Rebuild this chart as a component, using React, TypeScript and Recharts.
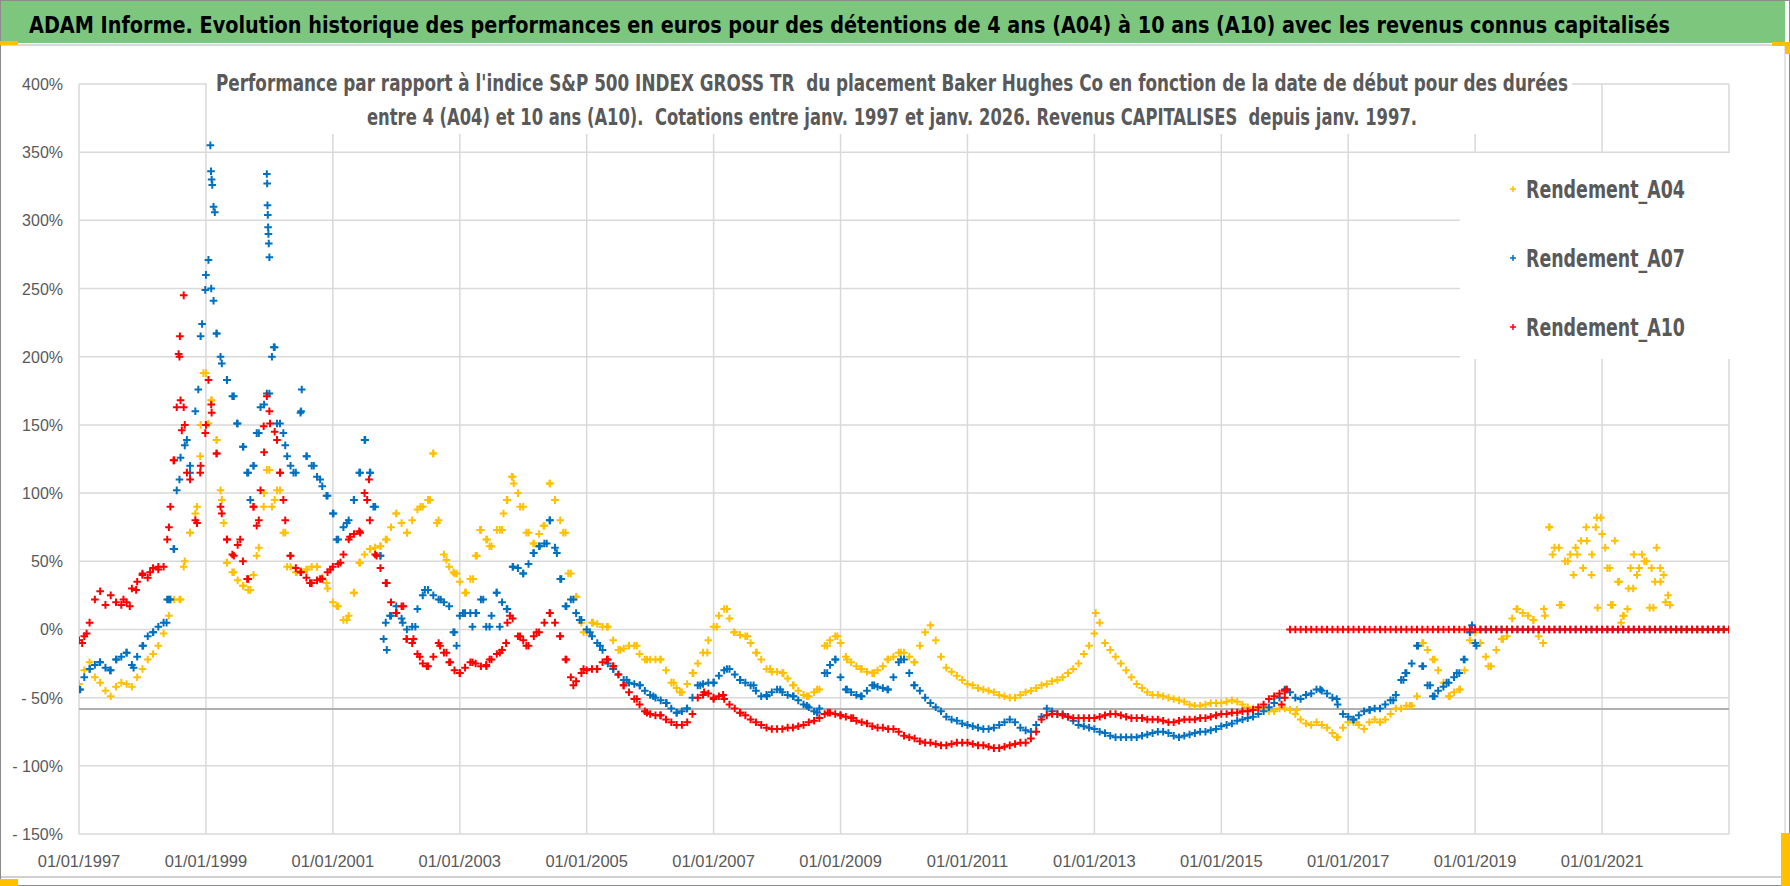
import React from "react";
import { ScatterChart, Scatter, XAxis, YAxis, CartesianGrid, ReferenceLine } from "recharts";

const NARROW = "'DejaVu Sans Condensed', 'Liberation Sans', sans-serif";
const AXIS_FONT = "'Liberation Sans', Arial, sans-serif";

const firstYear = 1997;
const xTicks = [1997, 1999, 2001, 2003, 2005, 2007, 2009, 2011, 2013, 2015, 2017, 2019, 2021];
const yTicks = [-150, -100, -50, 0, 50, 100, 150, 200, 250, 300, 350, 400];

// monthly readings (% vs index), one row per year, Jan 1997 -> Jan 2023
const a04Monthly = [
  -40, -30, -24, -35, -39, -45, -49, -42, -39, -40, -42, -35, // 1997
  -29, -22, -18, -12, -3, 10, 22, 22, 50, 71, 85, 150, // 1998
  188, 168, 139, 95, 49, 42, 36, 32, 29, 40, 60, 100, // 1999
  117, 95, 102, 71, 46, 42, 43, 44, 46, 46, 38, 30, // 2000
  20, 17, 7, 10, 27, 49, 55, 59, 60, 61, 66, 75, // 2001
  85, 78, 71, 80, 88, 90, 95, 129, 80, 55, 46, 41, // 2002
  35, 27, 37, 54, 73, 66, 61, 73, 73, 95, 112, 100, // 2003
  90, 71, 63, 70, 76, 107, 95, 80, 71, 41, 24, 5, // 2004
  -2, 5, 4, 2, 2, -8, -15, -14, -12, -12, -18, -22, // 2005
  -22, -22, -22, -30, -39, -43, -46, -40, -32, -25, -17, -8, // 2006
  2, 10, 15, 8, -2, -4, -5, -10, -17, -22, -29, -31, // 2007
  -31, -32, -36, -41, -45, -48, -49, -46, -44, -12, -8, -5, // 2008
  -10, -20, -24, -27, -29, -31, -32, -30, -27, -22, -20, -17, // 2009
  -17, -20, -24, -12, -2, 3, -8, -20, -28, -31, -34, -37, // 2010
  -40, -41, -43, -44, -45, -46, -48, -49, -50, -50, -48, -46, // 2011
  -45, -43, -41, -40, -38, -37, -35, -32, -29, -25, -18, -12, // 2012
  -3, 5, -10, -15, -20, -25, -30, -35, -40, -43, -46, -48, // 2013
  -48, -49, -50, -51, -52, -53, -55, -56, -56, -55, -54, -54, // 2014
  -54, -53, -52, -53, -55, -57, -58, -58, -58, -60, -60, -58, // 2015
  -58, -59, -62, -66, -69, -70, -68, -70, -72, -76, -79, -72, // 2016
  -68, -68, -70, -73, -68, -66, -68, -66, -62, -58, -58, -56, // 2017
  -56, -49, -10, -15, -22, -30, -39, -49, -46, -44, -30, -8, // 2018
  -2, -10, -20, -27, -15, -7, -5, 8, 15, 12, 10, 7, // 2019
  -5, 15, 75, 60, 18, 50, 55, 60, 65, 75, 40, 82, // 2020
  70, 45, 18, 35, 10, 30, 55, 45, 50, 16, 35, 45, // 2021
  20, 0, 0, 0, 0, 0, 0, 0, 0, 0, 0, 0, // 2022
  0, // 2023
];

const a07Monthly = [
  -44, -35, -29, -26, -24, -28, -30, -22, -20, -17, -26, -20, // 1997
  -12, -5, -2, 2, 5, 22, 59, 110, 135, 120, 160, 215, // 1998
  260, 250, 217, 195, 183, 171, 151, 134, 115, 120, 144, 165, // 1999
  173, 207, 151, 135, 120, 115, 160, 127, 120, 112, 105, 98, // 2000
  85, 66, 75, 80, 95, 115, 139, 115, 90, 54, 5, 10, // 2001
  12, 8, 0, 2, 15, 25, 29, 25, 22, 20, 17, -2, // 2002
  10, 12, 12, 12, 22, 2, 10, 27, 20, 15, 46, 45, // 2003
  41, 48, 56, 61, 63, 80, 60, 37, 17, 22, 12, 7, // 2004
  0, -5, -10, -15, -25, -29, -33, -37, -39, -40, -41, -45, // 2005
  -48, -50, -52, -54, -58, -61, -60, -58, -50, -41, -40, -39, // 2006
  -39, -34, -30, -29, -33, -37, -39, -41, -45, -49, -48, -46, // 2007
  -44, -46, -48, -49, -52, -55, -57, -60, -58, -32, -26, -22, // 2008
  -35, -44, -46, -48, -49, -45, -41, -42, -43, -44, -35, -24, // 2009
  -22, -32, -41, -45, -50, -54, -57, -60, -64, -66, -67, -69, // 2010
  -70, -71, -72, -73, -73, -72, -70, -68, -66, -68, -72, -74, // 2011
  -75, -70, -64, -58, -60, -62, -62, -64, -67, -70, -71, -72, // 2012
  -73, -75, -76, -78, -79, -79, -79, -79, -79, -78, -77, -76, // 2013
  -75, -75, -76, -78, -79, -78, -77, -76, -75, -75, -74, -73, // 2014
  -71, -70, -69, -67, -66, -65, -64, -62, -60, -57, -54, -50, // 2015
  -44, -46, -50, -51, -48, -47, -44, -45, -47, -50, -55, -62, // 2016
  -64, -66, -63, -60, -59, -58, -58, -55, -52, -48, -37, -32, // 2017
  -25, -12, -27, -41, -49, -45, -42, -39, -35, -32, -22, -2, // 2018
  -10, 0, 0, 0, 0, 0, 0, 0, 0, 0, 0, 0, // 2019
  0, 0, 0, 0, 0, 0, 0, 0, 0, 0, 0, 0, // 2020
  0, 0, 0, 0, 0, 0, 0, 0, 0, 0, 0, 0, // 2021
  0, 0, 0, 0, 0, 0, 0, 0, 0, 0, 0, 0, // 2022
  0, // 2023
];

const a10Monthly = [
  -8, -5, 5, 22, 28, 18, 25, 20, 18, 20, 30, 35, // 1997
  40, 38, 45, 44, 46, 75, 124, 200, 150, 110, 80, 120, // 1998
  150, 165, 129, 85, 66, 55, 62, 50, 37, 90, 80, 130, // 1999
  160, 145, 115, 80, 54, 45, 42, 38, 34, 36, 37, 42, // 2000
  46, 48, 55, 66, 70, 72, 100, 80, 55, 45, 34, 20, // 2001
  12, 17, -7, -10, -18, -25, -27, -20, -10, -17, -24, -30, // 2002
  -32, -28, -24, -25, -27, -26, -22, -18, -15, 5, 8, -5, // 2003
  -8, -12, -5, -2, 5, 12, 5, -5, -22, -35, -38, -32, // 2004
  -30, -29, -29, -24, -22, -27, -33, -41, -46, -51, -55, -60, // 2005
  -62, -63, -63, -66, -68, -70, -70, -68, -62, -50, -48, -47, // 2006
  -50, -49, -51, -55, -58, -61, -63, -66, -68, -70, -72, -73, // 2007
  -73, -73, -72, -72, -71, -70, -68, -67, -65, -62, -61, -62, // 2008
  -63, -64, -65, -67, -68, -69, -71, -72, -72, -73, -73, -75, // 2009
  -78, -79, -80, -82, -83, -83, -84, -85, -85, -84, -83, -83, // 2010
  -83, -84, -85, -85, -86, -87, -87, -86, -85, -84, -83, -83, // 2011
  -80, -75, -66, -63, -62, -62, -63, -64, -65, -65, -65, -65, // 2012
  -65, -64, -63, -62, -62, -63, -64, -65, -65, -65, -66, -66, // 2013
  -66, -67, -68, -68, -67, -66, -66, -66, -65, -65, -64, -63, // 2014
  -62, -62, -61, -61, -60, -60, -59, -57, -55, -51, -49, -47, // 2015
  -45, 0, 0, 0, 0, 0, 0, 0, 0, 0, 0, 0, // 2016
  0, 0, 0, 0, 0, 0, 0, 0, 0, 0, 0, 0, // 2017
  0, 0, 0, 0, 0, 0, 0, 0, 0, 0, 0, 0, // 2018
  0, 0, 0, 0, 0, 0, 0, 0, 0, 0, 0, 0, // 2019
  0, 0, 0, 0, 0, 0, 0, 0, 0, 0, 0, 0, // 2020
  0, 0, 0, 0, 0, 0, 0, 0, 0, 0, 0, 0, // 2021
  0, 0, 0, 0, 0, 0, 0, 0, 0, 0, 0, 0, // 2022
  0, // 2023
];

// extra readings between months (streaks and spikes), [decimal year, %]
const a04Extra = [
  [1998.44, 22], [1998.6, 22], [1998.65, 46], [1998.75, 71], [1998.86, 90], [1998.91, 127],
  [1998.96, 188], [1999.04, 151], [1999.09, 168], [1999.17, 139], [1999.23, 102], [1999.28, 78],
  [1999.33, 49], [1999.44, 42], [1999.59, 32], [1999.7, 29], [1999.8, 54], [1999.91, 90],
  [1999.96, 117], [2000.04, 90], [2000.12, 102], [2000.22, 71], [2000.28, 46], [2000.43, 42],
  [2000.59, 44], [2000.75, 46], [2000.9, 34], [2001.06, 17], [2001.22, 7], [2001.33, 27],
  [2001.43, 49], [2001.59, 59], [2001.75, 61], [2001.85, 66], [2002.0, 85], [2002.17, 71],
  [2002.38, 90], [2002.53, 95], [2002.58, 129], [2002.64, 78], [2002.79, 51], [2002.9, 42],
  [2002.95, 41], [2003.1, 27], [2003.21, 37], [2003.27, 54], [2003.32, 73], [2003.43, 66],
  [2003.47, 61], [2003.63, 73], [2003.69, 85], [2003.74, 95], [2003.82, 112], [2003.85, 107],
  [2003.95, 90], [2004.05, 71], [2004.16, 63], [2004.32, 76], [2004.42, 107], [2004.5, 95],
  [2004.63, 71], [2004.71, 41], [2004.84, 24], [2004.95, -2], [2005.1, 5], [2005.32, 2],
  [2005.53, -15], [2005.79, -12], [2005.95, -22], [2006.16, -22], [2006.37, -39], [2006.47, -46],
  [2006.68, -32], [2006.9, -17], [2007.05, 2], [2007.21, 15], [2007.32, -2], [2007.53, -5],
  [2007.68, -17], [2007.89, -29], [2008.1, -32], [2008.26, -41], [2008.47, -49], [2008.63, -44],
  [2008.79, -12], [2008.95, -5], [2009.1, -22], [2009.32, -29], [2009.53, -32], [2009.74, -22],
  [2009.95, -17], [2010.16, -24], [2013.02, 12],
  [2016.19, -59], [2016.82, -79], [2017.13, -68], [2017.5, -68], [2017.97, -56], [2018.18, -10],
  [2018.36, -22], [2018.6, -49], [2018.76, -44], [2019.21, -27], [2019.44, -7], [2019.65, 15],
  [2019.92, 7], [2020.07, -10],
  [2020.1, 10], [2020.17, 75], [2020.22, 55], [2020.32, 60], [2020.36, 18], [2020.46, 50],
  [2020.55, 40], [2020.61, 55], [2020.7, 45], [2020.76, 65], [2020.84, 55], [2020.9, 75],
  [2020.93, 16], [2020.98, 82], [2021.05, 60], [2021.12, 45], [2021.14, 18], [2021.2, 65],
  [2021.27, 35], [2021.3, 5], [2021.34, 10], [2021.4, 15], [2021.45, 45], [2021.49, 30],
  [2021.55, 40], [2021.63, 55], [2021.7, 50], [2021.78, 45], [2021.81, 16], [2021.86, 60],
  [2021.92, 35], [2021.97, 40], [2022.04, 25], [2022.07, 18],
];

const a07Extra = [
  [1997.02, -44], [1997.17, -29], [1997.33, -24], [1997.49, -30], [1997.59, -22], [1997.75, -17],
  [1997.86, -28], [1998.01, -12], [1998.17, -2], [1998.38, 5], [1998.39, 22], [1998.44, 22],
  [1998.49, 59], [1998.54, 102], [1998.6, 126], [1998.7, 139], [1998.75, 115], [1998.88, 176],
  [1998.94, 224], [1998.99, 249], [1999.04, 271], [1999.07, 355], [1999.08, 336], [1999.09, 330],
  [1999.1, 326], [1999.12, 310], [1999.14, 306], [1999.12, 241], [1999.17, 217], [1999.23, 200],
  [1999.33, 183], [1999.44, 171], [1999.49, 151], [1999.59, 134], [1999.65, 115], [1999.7, 95],
  [1999.75, 120], [1999.8, 144], [1999.86, 163], [1999.96, 173],
  [1999.96, 334], [1999.965, 327], [1999.97, 311], [1999.975, 304], [1999.98, 295],
  [1999.985, 290], [1999.99, 283], [2000.0, 273],
  [2000.04, 200], [2000.07, 207], [2000.12, 151], [2000.22, 144], [2000.28, 127], [2000.38, 115],
  [2000.49, 159], [2000.51, 176], [2000.59, 127], [2000.7, 120], [2000.8, 110], [2000.9, 98],
  [2001.01, 85], [2001.06, 66], [2001.22, 78], [2001.33, 95], [2001.43, 115], [2001.51, 139],
  [2001.59, 115], [2001.64, 90], [2001.75, 54], [2001.8, -7], [2001.85, -15], [2001.9, 10],
  [2002.0, 17], [2002.1, 5], [2002.3, 2], [2002.45, 29], [2002.7, 22], [2002.9, -2],
  [2002.95, -12], [2003.05, 12], [2003.2, 2], [2003.26, 12], [2003.37, 22], [2003.47, 2],
  [2003.58, 27], [2003.63, 2], [2003.74, 15], [2003.84, 46], [2004.0, 41], [2004.16, 56],
  [2004.26, 61], [2004.37, 63], [2004.42, 80], [2004.53, 56], [2004.6, 37], [2004.68, 17],
  [2004.79, 22], [2004.89, 7], [2005.05, -2], [2005.21, -12], [2005.42, -29], [2005.63, -37],
  [2005.84, -41], [2006.05, -49], [2006.26, -54], [2006.42, -61], [2006.58, -58], [2006.79, -41],
  [2007.0, -39], [2007.21, -29], [2007.42, -37], [2007.63, -41], [2007.84, -49], [2008.05, -44],
  [2008.26, -49], [2008.47, -56], [2008.63, -61], [2008.79, -32], [2008.92, -22], [2009.1, -44],
  [2009.32, -49], [2009.53, -41], [2009.74, -44], [2009.95, -22], [2010.16, -41],
  [2016.03, -44], [2016.56, -44], [2016.82, -51], [2017.08, -66], [2017.34, -59], [2017.71, -52],
  [2017.87, -37], [2017.9, -32], [2018.1, -12], [2018.18, -27], [2018.29, -41], [2018.36, -49],
  [2018.55, -39], [2018.71, -32], [2018.82, -22], [2018.92, -2], [2018.95, 3], [2019.02, -12],
];

const a10Extra = [
  [1997.05, -10], [1997.12, -3], [1997.7, 22], [1997.8, 17], [1997.9, 29], [1998.0, 41],
  [1998.12, 42], [1998.25, 46], [1998.39, 66], [1998.44, 90], [1998.49, 124], [1998.54, 163],
  [1998.57, 202], [1998.59, 215], [1998.65, 245], [1998.6, 168], [1998.65, 163], [1998.62, 146],
  [1998.7, 115], [1998.86, 78], [1998.91, 115], [1998.99, 144], [1999.04, 183], [1999.09, 159],
  [1999.17, 129], [1999.23, 90], [1999.33, 66], [1999.44, 54], [1999.54, 66], [1999.65, 37],
  [1999.75, 90], [1999.8, 76], [1999.86, 102], [1999.91, 149], [1999.96, 171], [2000.01, 151],
  [2000.12, 139], [2000.17, 115], [2000.22, 95], [2000.33, 54], [2000.49, 42], [2000.64, 34],
  [2000.8, 37], [2000.96, 44], [2001.12, 49], [2001.27, 68], [2001.43, 71], [2001.54, 95],
  [2001.57, 110], [2001.69, 54], [2001.85, 34], [2002.0, 12], [2002.11, 17], [2002.16, -7],
  [2002.27, -7], [2002.37, -20], [2002.48, -27], [2002.69, -12], [2002.79, -17], [2002.85, -24],
  [2003.0, -32], [2003.2, -24], [2003.42, -27], [2003.47, -22], [2003.63, -17], [2003.73, -10],
  [2003.79, 10], [2003.95, -5], [2004.05, -12], [2004.21, -2], [2004.42, 12], [2004.58, -5],
  [2004.68, -22], [2004.79, -41], [2004.95, -29], [2005.16, -29], [2005.32, -22], [2005.42, -27],
  [2005.58, -41], [2005.79, -51], [2005.95, -61], [2006.16, -63], [2006.85, -46], [2007.0, -51],
  [2007.15, -48], [2007.42, -61], [2008.8, -61], [2009.0, -63], [2009.2, -65],
  [2015.95, -55], [2016.0, -50], [2016.03, -44],
];

const toPoints = (vals: number[]) => vals.map((v, i) => ({ x: firstYear + i / 12, y: v }));
const fromPairs = (pairs: number[][]) => pairs.map(([x, y]) => ({ x, y }));

const a04Points = [...toPoints(a04Monthly), ...fromPairs(a04Extra)];
const a07Points = [...toPoints(a07Monthly), ...fromPairs(a07Extra)];
const a10Points = [...toPoints(a10Monthly), ...fromPairs(a10Extra)];

const plus = (color: string, r: number) => (props: any) => {
  const { cx, cy } = props;
  if (cx == null || cy == null) return <g />;
  return (
    <path
      d={`M${cx - r},${cy}H${cx + r}M${cx},${cy - r}V${cy + r}`}
      stroke={color}
      strokeWidth={2}
      fill="none"
    />
  );
};

const yLabel = (v: number) => (v < 0 ? `- ${-v}%` : `${v}%`);

const XTick = (props: any) => (
  <text x={props.x} y={867} textAnchor="middle" fontFamily={AXIS_FONT} fontSize={16.5} fill="#595959">
    {`01/01/${props.payload.value}`}
  </text>
);

const YTick = (props: any) => (
  <text x={63} y={props.y + 6} textAnchor="end" fontFamily={AXIS_FONT} fontSize={16} fill="#595959">
    {yLabel(props.payload.value)}
  </text>
);

// condensed text: horizontal scale plus exact target width
function NarrowText(p: {
  x: number;
  y: number;
  width: number;
  sx: number;
  size: number;
  fill: string;
  children: string;
}) {
  return (
    <text
      transform={`translate(${p.x},${p.y}) scale(${p.sx},1)`}
      x={0}
      y={0}
      fontFamily={NARROW}
      fontWeight="bold"
      fontSize={p.size}
      fill={p.fill}
      textLength={p.width / p.sx}
      lengthAdjust="spacingAndGlyphs"
      style={{ whiteSpace: "pre" }}
    >
      {p.children}
    </text>
  );
}

const legendItems = [
  { name: "Rendement_A04", color: "#ffc000", y: 189 },
  { name: "Rendement_A07", color: "#0070c0", y: 258 },
  { name: "Rendement_A10", color: "#ff0000", y: 327 },
];

export default function App() {
  return (
    <div
      style={{
        position: "absolute",
        left: 0,
        top: 0,
        width: 1790,
        height: 886,
        background: "#fff",
        overflow: "hidden",
      }}
    >
      <ScatterChart width={1790} height={886} margin={{ top: 84, right: 61, bottom: 12, left: 0 }}>
        <CartesianGrid stroke="#d9d9d9" strokeWidth={1.5} />
        <XAxis
          type="number"
          dataKey="x"
          domain={[1997, 2023]}
          ticks={xTicks}
          interval={0}
          allowDataOverflow
          axisLine={false}
          tickLine={false}
          height={40}
          tick={<XTick />}
        />
        <YAxis
          type="number"
          dataKey="y"
          domain={[-150, 400]}
          ticks={yTicks}
          interval={0}
          allowDataOverflow
          axisLine={false}
          tickLine={false}
          width={79}
          tick={<YTick />}
        />
        <ReferenceLine y={-58.3} stroke="#b0b0b0" strokeWidth={2} />
        <Scatter name="Rendement_A04" data={a04Points} fill="#ffc000" shape={plus("#ffc000", 3.8)} isAnimationActive={false} />
        <Scatter name="Rendement_A07" data={a07Points} fill="#0070c0" shape={plus("#0070c0", 3.8)} isAnimationActive={false} />
        <Scatter name="Rendement_A10" data={a10Points} fill="#ff0000" shape={plus("#ff0000", 3.8)} isAnimationActive={false} />
      </ScatterChart>

      <svg
        width={1790}
        height={886}
        style={{ position: "absolute", left: 0, top: 0, pointerEvents: "none" }}
      >
        {/* frame */}
        <rect x={0.5} y={0.5} width={1789} height={885} fill="none" stroke="#8c8c8c" />
        <rect x={1} y={1} width={1784} height={42} fill="#7dc67d" />
        <line x1={1} y1={45} x2={1785} y2={45} stroke="#d9d9d9" strokeWidth={2} />
        <line x1={1785} y1={45} x2={1785} y2={877} stroke="#c8c8c8" strokeWidth={1} />
        <line x1={1} y1={877} x2={1785} y2={877} stroke="#d0d0d0" strokeWidth={2} />
        <rect x={0} y={41} width={18} height={4} fill="#ffc000" />
        <rect x={1772} y={42} width={18} height={4} fill="#ffc000" />
        <rect x={1785} y={42} width={5} height={12} fill="#ffc000" />
        <rect x={1781} y={833} width={9} height={53} fill="#ffc000" />
        <rect x={0} y={879} width={18} height={7} fill="#ffc000" />

        <NarrowText x={29} y={33} width={1641} sx={0.78} size={23} fill="#000">
          ADAM Informe. Evolution historique des performances en euros pour des détentions de 4 ans (A04) à 10 ans (A10) avec les revenus connus capitalisés
        </NarrowText>

        {/* subtitle box */}
        <rect x={207} y={68} width={1365} height={66} fill="#fff" />
        <NarrowText x={216} y={91} width={1352} sx={0.75} size={23} fill="#595959">
          {"Performance par rapport à l'indice S&P 500 INDEX GROSS TR  du placement Baker Hughes Co en fonction de la date de début pour des durées"}
        </NarrowText>
        <NarrowText x={367} y={124.5} width={1050} sx={0.72} size={23} fill="#595959">
          {"entre 4 (A04) et 10 ans (A10).  Cotations entre janv. 1997 et janv. 2026. Revenus CAPITALISES  depuis janv. 1997."}
        </NarrowText>

        {/* legend */}
        <rect x={1460} y={153} width={270} height={206} fill="#fff" />
        {legendItems.map((it) => (
          <g key={it.name}>
            <path
              d={`M${1510},${it.y}H${1516}M${1513},${it.y - 3}V${it.y + 3}`}
              stroke={it.color}
              strokeWidth={1.5}
            />
            <NarrowText x={1526} y={it.y + 9} width={159} sx={0.8} size={25} fill="#595959">
              {it.name}
            </NarrowText>
          </g>
        ))}
      </svg>
    </div>
  );
}
